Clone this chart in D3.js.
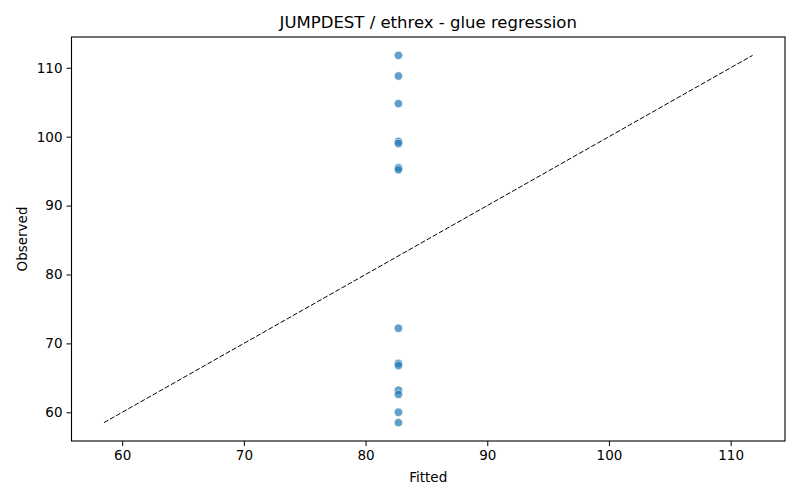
<!DOCTYPE html>
<html>
<head>
<meta charset="utf-8">
<script src="https://cdn.jsdelivr.net/npm/d3@7"></script>
<style>
  body { margin: 0; background: #fff; }
  text { font-family: "DejaVu Sans", sans-serif; fill: #000; }
</style>
</head>
<body>
<svg id="chart" width="800" height="500"></svg>
<script>
// Observed vs fitted values
const observed = [111.8, 108.8, 104.8, 99.3, 99.0, 95.5, 95.2, 72.2, 67.1, 66.8, 63.2, 62.6, 60.0, 58.5];
const fitted = [82.7, 82.7, 82.7, 82.7, 82.7, 82.7, 82.7, 82.7, 82.7, 82.7, 82.7, 82.7, 82.7, 82.7];
const xTicks = [60, 70, 80, 90, 100, 110];
const yTicks = [60, 70, 80, 90, 100, 110];

const margin = { top: 37, right: 15, bottom: 59, left: 71.5 };
const width = 800 - margin.left - margin.right;
const height = 500 - margin.top - margin.bottom;

const svg = d3.select("#chart");
const g = svg.append("g").attr("transform", `translate(${margin.left},${margin.top})`);

// Range covers both series, padded 5% like matplotlib
const ext = d3.extent(observed.concat(fitted));
const pad = (ext[1] - ext[0]) * 0.05;
const x = d3.scaleLinear().domain([ext[0] - pad, ext[1] + pad]).range([0, width]);
const y = d3.scaleLinear().domain([ext[0] - pad, ext[1] + pad]).range([height, 0]);

// Identity line
g.append("line")
    .attr("x1", x(ext[0])).attr("y1", y(ext[0]))
    .attr("x2", x(ext[1])).attr("y2", y(ext[1]))
    .attr("stroke", "#000")
    .attr("stroke-width", 1)
    .attr("stroke-dasharray", "5,2");

// Points
g.selectAll(".pt")
    .data(observed.map((o, i) => ({ o, f: fitted[i] })))
    .enter().append("circle")
    .attr("class", "pt")
    .attr("cx", d => x(d.f))
    .attr("cy", d => y(d.o))
    .attr("r", 4.2)
    .attr("fill", "#1f77b4")
    .attr("fill-opacity", 0.7)
    .attr("stroke", "#fff")
    .attr("stroke-opacity", 0.7)
    .attr("stroke-width", 0.8);

// Axes
const xAxis = g.append("g")
    .attr("transform", `translate(0,${height})`)
    .call(d3.axisBottom(x).tickValues(xTicks).tickSize(5).tickPadding(4).tickFormat(d3.format("d")));
const yAxis = g.append("g")
    .call(d3.axisLeft(y).tickValues(yTicks).tickSize(5).tickPadding(4).tickFormat(d3.format("d")));
[xAxis, yAxis].forEach(a => {
    a.select(".domain").remove();
    a.selectAll("line").attr("stroke", "#000").attr("stroke-width", 1);
    a.selectAll("text").attr("font-size", "13.5px").attr("font-family", "DejaVu Sans").attr("fill", "#000");
});

// Frame
g.append("rect")
    .attr("width", width).attr("height", height)
    .attr("fill", "none").attr("stroke", "#000").attr("stroke-width", 1.1);

// Title and labels
svg.append("text")
    .attr("x", margin.left + width / 2).attr("y", 28)
    .attr("text-anchor", "middle").attr("font-size", "16.5px")
    .text("JUMPDEST / ethrex - glue regression");
svg.append("text")
    .attr("x", margin.left + width / 2).attr("y", 482)
    .attr("text-anchor", "middle").attr("font-size", "13.5px")
    .text("Fitted");
svg.append("text")
    .attr("transform", `translate(27,${margin.top + height / 2}) rotate(-90)`)
    .attr("text-anchor", "middle").attr("font-size", "13.5px")
    .text("Observed");
</script>
</body>
</html>
